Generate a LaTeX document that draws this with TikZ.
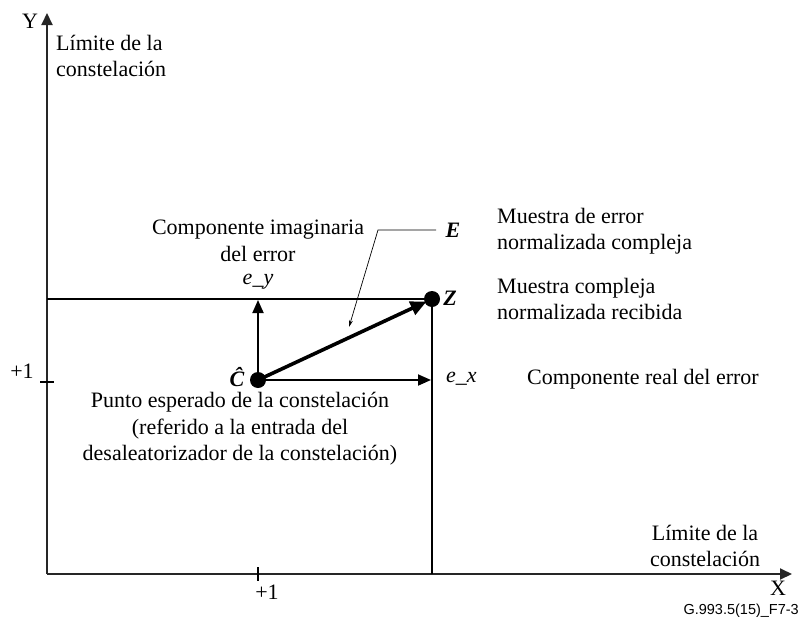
\documentclass[tikz,border=0pt]{standalone}
\usepackage{fontspec}
\setmainfont{Liberation Serif}
\newfontfamily\figsans{Liberation Sans}
\usetikzlibrary{arrows.meta}
\begin{document}
\begin{tikzpicture}[x=1pt,y=-1pt,
  txt/.style={font=\fontsize{22}{26.5}\selectfont, inner sep=0pt},
  axis/.style={line width=2pt, draw=black!85, -{Triangle[length=12pt,width=11pt]}},
  thin/.style={line width=1.3pt},
  comp/.style={line width=1.8pt, -{Triangle[length=13pt,width=11pt]}},
  errvec/.style={line width=3.6pt, -{Triangle[length=16pt,width=14pt]}},
  leader/.style={line width=0.7pt, -{Stealth[length=7pt,width=4pt]}},
  dot/.style={circle, fill=black, minimum size=16pt, inner sep=0pt},
  tick/.style={line width=1.2pt}]
\useasboundingbox (0,0) rectangle (803,621);
% axes
\coordinate (O) at (47,574);
\coordinate (Ytip) at (47,13);
\coordinate (Xtip) at (792,574);
\draw[axis] (O) -- (Ytip);
\draw[axis] (O) -- (Xtip);
\node[txt] (Ylab) at (30,21) {Y};
\node[txt] (Xlab) at (778,588) {X};
% ticks
\coordinate (ty1) at (40,382); \coordinate (ty2) at (54,382);
\draw[tick] (ty1) -- (ty2);
\node[txt] (ply) at (22,371) {+1};
\coordinate (tx1) at (258,567); \coordinate (tx2) at (258,581);
\draw[tick] (tx1) -- (tx2);
\node[txt] (plx) at (267,592) {+1};
% points
\node[dot] (C) at (258,380) {};
\node[dot] (Z) at (432,299) {};
\coordinate (ZY) at (47,299);
\coordinate (ZX) at (432,574);
\draw[thin] (ZY) -- (Z);
\draw[thin] (Z) -- (ZX);
\coordinate (ey) at (258,300);
\coordinate (ex) at (431,380);
\draw[comp] (C.center) -- (ey);
\draw[comp] (C.center) -- (ex);
\draw[errvec, shorten >=6pt] (C.center) -- (Z.center);
% leader to E
\coordinate (Lh) at (436,230);
\coordinate (Lk) at (378,230);
\coordinate (Lt) at (349,327);
\draw[leader] (Lh) -- (Lk) -- (Lt);
% labels
\node[txt] (Elab) at (453,230) {\textbf{\textit{E}}};
\node[txt] (Zlab) at (450,298) {\textbf{\textit{Z}}};
\node[txt] (Clab) at (237,377) {\textbf{\textit{\^C}}};
\node[txt] (eylab) at (258,282) {\textit{e\_y}};
\node[txt, anchor=west] (exlab) at (446,379) {\textit{e\_x}};
\node[txt, align=left, anchor=north west] (limy) at (56,35) {Límite de la\\constelación};
\node[txt, align=center] (cim) at (258,241) {Componente imaginaria\\del error};
\node[txt, align=left, anchor=west] (mde) at (497,231) {Muestra de error\\normalizada compleja};
\node[txt, align=left, anchor=west] (mcr) at (497,299) {Muestra compleja\\normalizada recibida};
\node[txt, anchor=west] (cre) at (527,379) {Componente real del error};
\node[txt, align=center, anchor=north] (pec) at (240,392) {Punto esperado de la constelación\\(referido a la entrada del\\desaleatorizador de la constelación)};
\node[txt, align=center] (limx) at (705,546) {Límite de la\\constelación};
\node[font=\figsans\fontsize{14.5}{16}\selectfont, inner sep=0pt, anchor=east] (fig) at (799,611) {G.993.5(15)\_F7-3};
\end{tikzpicture}
\end{document}
